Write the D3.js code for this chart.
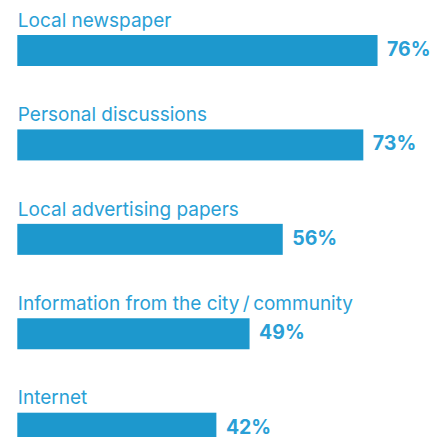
<!DOCTYPE html>
<html>
<head>
<meta charset="utf-8">
<script src="https://cdn.jsdelivr.net/npm/d3@7"></script>
<style>
  html, body { margin: 0; padding: 0; background: #fff; }
  svg { display: block; }
</style>
</head>
<body>
<svg id="chart" width="441" height="437"></svg>
<script>
// Sources of local information, share of respondents
const categories = [
  "Local newspaper",
  "Personal discussions",
  "Local advertising papers",
  "Information from the city\u2009/\u2009community",
  "Internet"
];
const values = [76, 73, 56, 49, 42];

const width = 441, height = 437;
const barColor = "#1d98cd";
const textColor = "#2a9fd6";
const barHeight = 31;

const svg = d3.select("#chart");

const x = d3.scaleLinear().domain([0, 100]).range([17.3, 17.3 + 474]);
const y = d3.scalePoint().domain(categories).range([35, 412.7]);

const data = categories.map((c, i) => ({ category: c, value: values[i] }));

const g = svg.selectAll("g.item").data(data).join("g").attr("class", "item");

g.append("rect")
  .attr("x", x(0))
  .attr("y", d => y(d.category))
  .attr("width", d => x(d.value) - x(0))
  .attr("height", barHeight)
  .attr("fill", barColor);

g.append("text")
  .attr("x", x(0) + 0.5)
  .attr("y", d => y(d.category) - 8.3)
  .attr("fill", textColor)
  .style("font-family", "Inter, 'Liberation Sans', sans-serif")
  .style("font-size", "19px")
  .text(d => d.category);

g.append("text")
  .attr("x", d => x(d.value) + 9.5)
  .attr("y", d => y(d.category) + 21)
  .attr("fill", textColor)
  .style("font-family", "Inter, 'Liberation Sans', sans-serif")
  .style("font-size", "19.5px")
  .style("font-weight", "700")
  .text(d => d.value + "%");
</script>
</body>
</html>
